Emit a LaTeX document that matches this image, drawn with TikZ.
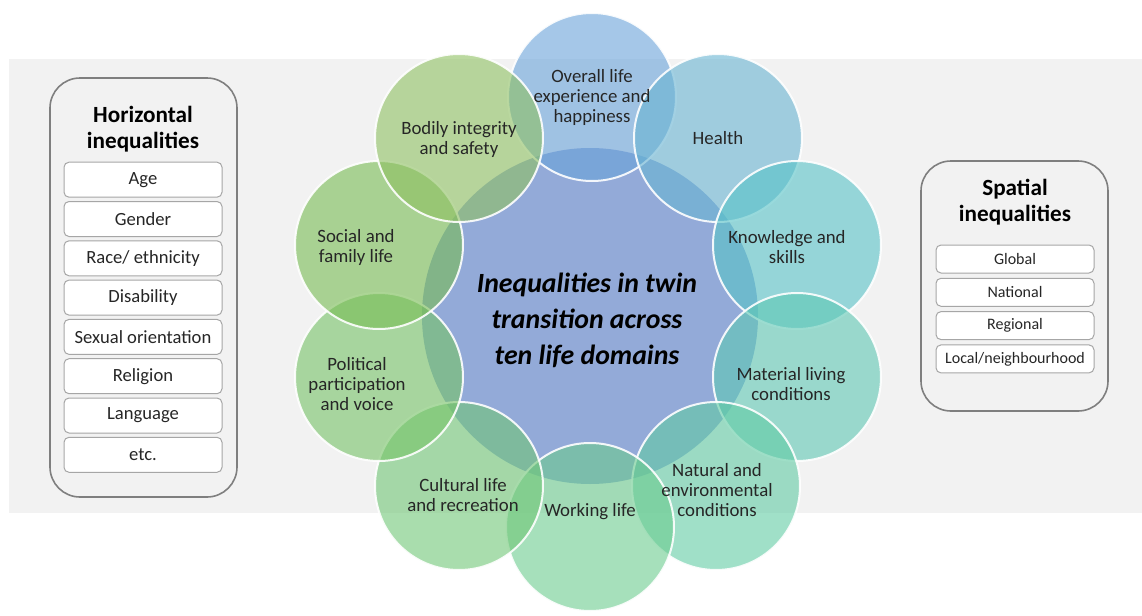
\documentclass[tikz,border=0pt]{standalone}
\usepackage{fontspec}
\setmainfont{Carlito}
\definecolor{bandgray}{HTML}{F2F2F2}
\definecolor{boxline}{HTML}{7F7F7F}
\definecolor{itemline}{HTML}{A6A6A6}
\definecolor{txt}{HTML}{262626}
\definecolor{cCenter}{HTML}{547AC8}
\definecolor{cOverall}{HTML}{69A2D9}
\definecolor{cHealth}{HTML}{68B4D2}
\definecolor{cKnow}{HTML}{57C3C7}
\definecolor{cMaterial}{HTML}{5EC8B4}
\definecolor{cNatural}{HTML}{61CBA4}
\definecolor{cWorking}{HTML}{6BCB8E}
\definecolor{cCultural}{HTML}{70C676}
\definecolor{cPolitical}{HTML}{76C366}
\definecolor{cSocial}{HTML}{78BC53}
\definecolor{cBodily}{HTML}{8EC061}
\begin{document}
\begin{tikzpicture}[x=0.5pt,y=-0.5pt,
  domain/.style={circle, inner sep=0pt, minimum size=84pt, fill=#1,
    fill opacity=0.6, draw=white, draw opacity=0.9, line width=1pt},
  hub/.style={circle, inner sep=0pt, minimum size=168pt, fill=cCenter,
    fill opacity=0.6},
  dlabel/.style={align=center, text=txt, font=\fontsize{9.4}{10}\selectfont},
  panel/.style={draw=boxline, line width=0.8pt, fill=bandgray,
    rounded corners=15pt},
  ptitle/.style={align=center, text=black, font=\fontsize{11.6}{13}\selectfont\bfseries},
  hitem/.style={draw=itemline, line width=0.5pt, fill=white, rounded corners=2.5pt,
    minimum width=79pt, minimum height=17.5pt, inner sep=0pt, text=txt,
    font=\fontsize{9.3}{10}\selectfont},
  sitem/.style={hitem, minimum height=14pt, font=\fontsize{8}{9}\selectfont}]
\useasboundingbox (0,0) rectangle (1142,616);
% background band
\fill[bandgray] (9,59) rectangle (1142,513);

% horizontal inequalities panel
\draw[panel] (50,78) rectangle (237,497);
\node[ptitle] (htitle) at (143,129) {Horizontal\\inequalities};
\foreach \t [count=\i] in {Age,Gender,Race/ ethnicity,Disability,Sexual orientation,Religion,Language,etc.}
  \node[hitem] (h\i) at (143,{179.7+39.3*(\i-1)}) {\t};

% spatial inequalities panel
\draw[panel] (921,161) rectangle (1108,411);
\node[ptitle] (stitle) at (1015,202) {Spatial\\inequalities};
\foreach \t [count=\i] in {Global,National,Regional,Local/neighbourhood}
  \node[sitem] (s\i) at (1015,{259+33.3*(\i-1)}) {\t};

% central hub and ten life domains around it
\node[hub] (hub) at (590,316) {};
\foreach \n/\c/\x/\y in {overall/cOverall/592/97, health/cHealth/718/138,
    know/cKnow/797/245, material/cMaterial/797/377, natural/cNatural/716/486,
    working/cWorking/590/527, cultural/cCultural/459/486,
    political/cPolitical/379/377, social/cSocial/379/245, bodily/cBodily/459/138}
  \node[domain=\c] (\n) at (\x,\y) {};

\node[align=center, text=black, font=\fontsize{13.9}{18}\selectfont\bfseries\itshape]
  (title) at (587,320) {Inequalities in twin\\transition across\\ten life domains};

\node[dlabel] (lOverall) at (592,97) {Overall life\\experience and\\happiness};
\node[dlabel] (lHealth) at (718,138) {Health};
\node[dlabel] (lKnow) at (787,247) {Knowledge and\\skills};
\node[dlabel] (lMaterial) at (791,384) {Material living\\conditions};
\node[dlabel] (lNatural) at (717,490) {Natural and\\environmental\\conditions};
\node[dlabel] (lWorking) at (590,512) {Working life};
\node[dlabel] (lCultural) at (463,495) {Cultural life\\and recreation};
\node[dlabel] (lPolitical) at (357,384) {Political\\participation\\and voice};
\node[dlabel] (lSocial) at (356,247) {Social and\\family life};
\node[dlabel] (lBodily) at (459,139) {Bodily integrity\\and safety};
\end{tikzpicture}
\end{document}
